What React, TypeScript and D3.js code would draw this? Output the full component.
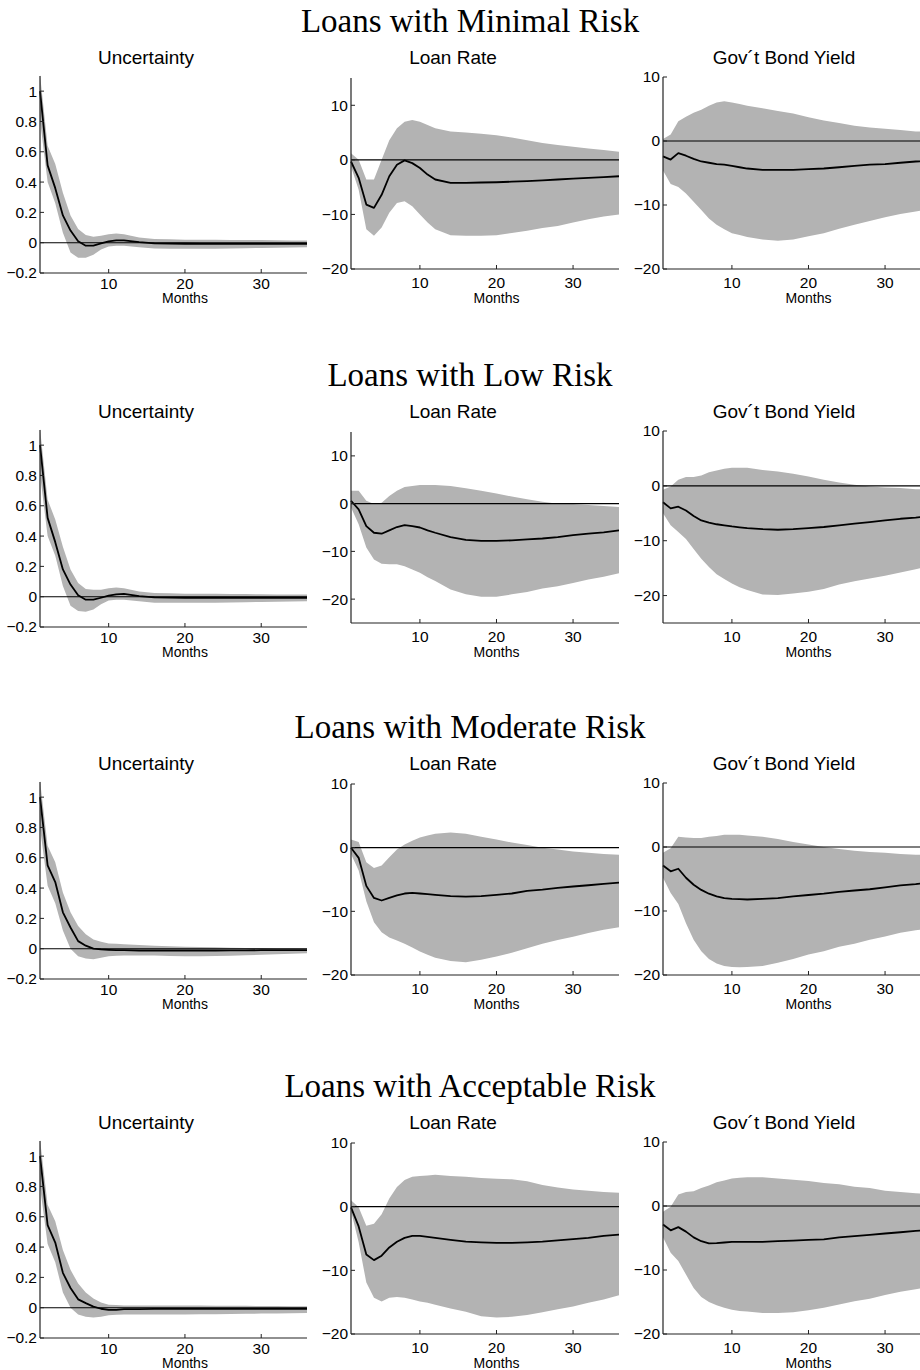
import React, { useEffect, useRef } from 'react';
import * as d3 from 'd3';

const months = [1, 2, 3, 4, 5, 6, 7, 8, 9, 10, 11, 12, 14, 16, 18, 20, 22, 24, 26, 28, 30, 32, 34, 36];

const rowTitles = ['Loans with Minimal Risk', 'Loans with Low Risk', 'Loans with Moderate Risk', 'Loans with Acceptable Risk'];
const colTitles = ['Uncertainty', 'Loan Rate', 'Gov\u00B4t Bond Yield'];
const xTicks = [10, 20, 30];
const uncTicks = [-0.2, 0, 0.2, 0.4, 0.6, 0.8, 1];
const rateTicks = [-20, -10, 0, 10];

// --- Minimal risk
const minUncMid = [1.0, 0.51, 0.36, 0.18, 0.08, 0.01, -0.02, -0.02, -0.005, 0.008, 0.015, 0.015, 0.004, -0.004, -0.006, -0.007, -0.008, -0.008, -0.008, -0.008, -0.008, -0.008, -0.008, -0.008];
const minUncHi = [1.11, 0.64, 0.52, 0.33, 0.18, 0.09, 0.05, 0.04, 0.045, 0.055, 0.06, 0.055, 0.035, 0.025, 0.022, 0.02, 0.02, 0.02, 0.018, 0.018, 0.017, 0.016, 0.015, 0.015];
const minUncLo = [0.81, 0.40, 0.26, 0.065, -0.065, -0.1, -0.1, -0.08, -0.045, -0.025, -0.02, -0.02, -0.03, -0.038, -0.04, -0.04, -0.04, -0.04, -0.038, -0.036, -0.035, -0.034, -0.032, -0.03];
const minRateMid = [-0.3, -3.3, -8.2, -8.8, -6.4, -3.0, -0.9, -0.1, -0.6, -1.5, -2.7, -3.6, -4.2, -4.2, -4.15, -4.1, -4.0, -3.9, -3.75, -3.6, -3.45, -3.3, -3.15, -3.0];
const minRateHi = [1.2, 0.0, -3.6, -3.6, 0.0, 3.6, 5.8, 7.0, 7.3, 7.0, 6.4, 5.8, 5.2, 5.0, 4.8, 4.5, 4.1, 3.6, 3.1, 2.7, 2.4, 2.1, 1.8, 1.5];
const minRateLo = [-1.2, -5.5, -12.7, -13.9, -12.4, -9.7, -7.9, -7.6, -8.5, -10.0, -11.5, -12.7, -13.8, -13.9, -13.9, -13.8, -13.4, -13.0, -12.5, -12.1, -11.5, -10.9, -10.4, -10.0];
const minGovMid = [-2.4, -2.9, -1.9, -2.3, -2.8, -3.2, -3.4, -3.6, -3.7, -3.9, -4.1, -4.3, -4.5, -4.5, -4.5, -4.4, -4.3, -4.1, -3.9, -3.7, -3.6, -3.4, -3.2, -3.1];
const minGovHi = [0.3, 1.0, 3.1, 3.8, 4.4, 4.9, 5.5, 6.0, 6.2, 6.0, 5.8, 5.5, 5.1, 4.7, 4.3, 3.7, 3.2, 2.8, 2.4, 2.1, 1.9, 1.7, 1.5, 1.4];
const minGovLo = [-4.6, -6.7, -7.2, -8.2, -9.5, -10.8, -12.1, -13.1, -13.8, -14.4, -14.7, -15.0, -15.4, -15.6, -15.4, -14.9, -14.4, -13.7, -13.1, -12.5, -11.9, -11.4, -11.0, -10.6];

// --- Low risk
const lowUncMid = [1.0, 0.52, 0.36, 0.18, 0.08, 0.01, -0.02, -0.02, -0.007, 0.007, 0.015, 0.018, 0.004, -0.005, -0.006, -0.007, -0.007, -0.007, -0.007, -0.007, -0.007, -0.007, -0.007, -0.007];
const lowUncHi = [1.11, 0.64, 0.51, 0.33, 0.18, 0.09, 0.05, 0.045, 0.045, 0.055, 0.06, 0.055, 0.035, 0.025, 0.022, 0.02, 0.02, 0.019, 0.018, 0.017, 0.016, 0.015, 0.015, 0.015];
const lowUncLo = [0.81, 0.40, 0.27, 0.07, -0.06, -0.095, -0.1, -0.085, -0.05, -0.025, -0.02, -0.02, -0.03, -0.04, -0.04, -0.04, -0.04, -0.04, -0.038, -0.036, -0.035, -0.033, -0.032, -0.03];
const lowRateMid = [0.6, -1.2, -4.7, -6.1, -6.3, -5.6, -4.9, -4.5, -4.7, -5.0, -5.6, -6.1, -7.0, -7.6, -7.8, -7.8, -7.7, -7.5, -7.3, -7.0, -6.6, -6.3, -6.0, -5.6];
const lowRateHi = [2.7, 2.7, 0.6, -0.1, 0.2, 1.6, 2.7, 3.5, 3.7, 3.9, 3.9, 3.9, 3.7, 3.2, 2.7, 2.1, 1.5, 0.9, 0.4, 0.0, -0.1, -0.3, -0.5, -0.7];
const lowRateLo = [-0.8, -4.3, -9.2, -11.7, -12.6, -12.7, -12.7, -13.1, -13.8, -14.5, -15.4, -16.2, -18.0, -19.0, -19.5, -19.5, -19.0, -18.5, -17.8, -17.3, -16.6, -15.9, -15.3, -14.6];
const lowGovMid = [-3.0, -4.1, -3.8, -4.5, -5.5, -6.3, -6.7, -7.0, -7.2, -7.4, -7.55, -7.7, -7.9, -8.0, -7.9, -7.7, -7.5, -7.2, -6.9, -6.6, -6.3, -6.0, -5.8, -5.5];
const lowGovHi = [-0.7, -0.1, 1.1, 1.6, 1.6, 1.9, 2.5, 2.8, 3.1, 3.3, 3.3, 3.3, 2.9, 2.6, 2.2, 1.7, 1.1, 0.6, 0.2, -0.1, -0.3, -0.4, -0.6, -0.7];
const lowGovLo = [-5.0, -7.2, -8.4, -9.7, -11.5, -13.3, -14.8, -16.1, -17.0, -17.8, -18.5, -19.0, -19.8, -19.9, -19.6, -19.3, -18.8, -18.0, -17.4, -16.9, -16.4, -15.8, -15.2, -14.5];

// --- Moderate risk
const modUncMid = [1.0, 0.55, 0.44, 0.24, 0.14, 0.05, 0.02, 0.0, -0.005, -0.008, -0.01, -0.01, -0.012, -0.012, -0.012, -0.012, -0.012, -0.012, -0.011, -0.011, -0.01, -0.01, -0.01, -0.01];
const modUncHi = [1.11, 0.68, 0.57, 0.37, 0.24, 0.15, 0.095, 0.06, 0.045, 0.035, 0.032, 0.03, 0.025, 0.02, 0.016, 0.013, 0.011, 0.009, 0.007, 0.005, 0.004, 0.002, 0.001, 0.0];
const modUncLo = [0.8, 0.415, 0.3, 0.12, 0.0, -0.05, -0.065, -0.07, -0.06, -0.05, -0.047, -0.045, -0.045, -0.045, -0.048, -0.05, -0.05, -0.048, -0.046, -0.043, -0.04, -0.037, -0.034, -0.03];
const modRateMid = [0.0, -1.6, -6.0, -7.9, -8.3, -7.9, -7.5, -7.2, -7.1, -7.2, -7.3, -7.4, -7.6, -7.7, -7.6, -7.4, -7.2, -6.8, -6.6, -6.3, -6.1, -5.9, -5.7, -5.5];
const modRateHi = [1.3, 0.9, -2.3, -3.2, -2.8, -1.5, -0.3, 0.5, 1.1, 1.6, 1.9, 2.2, 2.4, 2.2, 1.7, 1.3, 0.8, 0.4, 0.0, -0.3, -0.6, -0.8, -1.0, -1.1];
const modRateLo = [-1.0, -3.6, -8.4, -11.7, -13.3, -14.1, -14.6, -15.1, -15.7, -16.3, -16.8, -17.3, -17.8, -18.0, -17.6, -17.1, -16.5, -15.8, -15.1, -14.5, -14.0, -13.4, -12.9, -12.5];
const modGovMid = [-2.9, -3.8, -3.4, -4.8, -5.9, -6.7, -7.3, -7.7, -8.0, -8.1, -8.15, -8.2, -8.1, -8.0, -7.7, -7.5, -7.3, -7.0, -6.8, -6.6, -6.3, -6.0, -5.8, -5.5];
const modGovHi = [-0.9, -0.2, 1.6, 1.5, 1.4, 1.4, 1.6, 1.7, 1.9, 1.9, 1.9, 1.8, 1.6, 1.25, 0.8, 0.4, 0.0, -0.3, -0.6, -0.8, -0.9, -1.1, -1.2, -1.25];
const modGovLo = [-4.8, -7.2, -8.9, -11.9, -14.5, -16.3, -17.5, -18.2, -18.6, -18.75, -18.8, -18.75, -18.6, -18.1, -17.5, -16.8, -16.3, -15.6, -15.1, -14.5, -14.0, -13.4, -13.0, -12.7];

// --- Acceptable risk
const accUncMid = [1.0, 0.545, 0.43, 0.23, 0.13, 0.055, 0.03, 0.007, -0.007, -0.015, -0.015, -0.01, -0.009, -0.008, -0.008, -0.008, -0.008, -0.008, -0.008, -0.008, -0.008, -0.008, -0.008, -0.008];
const accUncHi = [1.11, 0.68, 0.57, 0.38, 0.25, 0.16, 0.1, 0.06, 0.035, 0.02, 0.017, 0.015, 0.015, 0.015, 0.015, 0.015, 0.014, 0.013, 0.012, 0.012, 0.011, 0.011, 0.01, 0.01];
const accUncLo = [0.8, 0.42, 0.3, 0.1, 0.0, -0.045, -0.06, -0.065, -0.06, -0.05, -0.047, -0.045, -0.045, -0.045, -0.045, -0.045, -0.044, -0.043, -0.042, -0.04, -0.039, -0.038, -0.036, -0.035];
const accRateMid = [-0.1, -3.1, -7.5, -8.4, -7.7, -6.4, -5.5, -4.9, -4.6, -4.6, -4.75, -4.9, -5.2, -5.5, -5.6, -5.7, -5.7, -5.6, -5.5, -5.3, -5.1, -4.9, -4.6, -4.4];
const accRateHi = [1.0, -0.1, -3.0, -2.7, -1.2, 1.3, 3.1, 4.2, 4.7, 4.8, 4.9, 5.0, 4.8, 4.7, 4.5, 4.4, 4.3, 4.0, 3.4, 3.0, 2.7, 2.5, 2.3, 2.2];
const accRateLo = [-0.7, -5.6, -11.9, -14.3, -14.9, -14.3, -14.2, -14.3, -14.6, -14.9, -15.1, -15.4, -16.0, -16.5, -17.2, -17.4, -17.3, -17.0, -16.6, -16.1, -15.7, -15.1, -14.6, -13.9];
const accGovMid = [-2.9, -3.8, -3.3, -4.0, -4.9, -5.5, -5.85, -5.8, -5.7, -5.6, -5.6, -5.6, -5.6, -5.5, -5.4, -5.3, -5.2, -4.9, -4.7, -4.5, -4.3, -4.1, -3.9, -3.7];
const accGovHi = [-0.9, -0.1, 1.8, 2.2, 2.3, 2.8, 3.2, 3.7, 4.0, 4.3, 4.4, 4.5, 4.5, 4.3, 4.1, 3.9, 3.6, 3.4, 3.0, 2.8, 2.4, 2.2, 2.0, 1.9];
const accGovLo = [-4.9, -7.3, -8.6, -10.7, -12.8, -14.2, -15.0, -15.5, -15.9, -16.2, -16.4, -16.5, -16.7, -16.7, -16.6, -16.3, -15.9, -15.4, -14.9, -14.5, -13.9, -13.4, -13.0, -12.6];

// y ranges per panel [row][col]
const yDomains = [
  [[-0.2, 1.1], [-20, 15], [-20, 10]],
  [[-0.2, 1.1], [-25, 15], [-25, 10]],
  [[-0.2, 1.1], [-20, 10], [-20, 10]],
  [[-0.2, 1.1], [-20, 10], [-20, 10]],
];

const series = [
  [[minUncMid, minUncHi, minUncLo], [minRateMid, minRateHi, minRateLo], [minGovMid, minGovHi, minGovLo]],
  [[lowUncMid, lowUncHi, lowUncLo], [lowRateMid, lowRateHi, lowRateLo], [lowGovMid, lowGovHi, lowGovLo]],
  [[modUncMid, modUncHi, modUncLo], [modRateMid, modRateHi, modRateLo], [modGovMid, modGovHi, modGovLo]],
  [[accUncMid, accUncHi, accUncLo], [accRateMid, accRateHi, accRateLo], [accGovMid, accGovHi, accGovLo]],
];

// layout
const rowOffsets = [0, 354, 706, 1065];
const cols = [
  { x0: 40, x1: 307, bottom: 273, top: 76, titleX: 146, tickDy: 16, monthsDy: 30 },
  { x0: 351, x1: 619, bottom: 269, top: 78, titleX: 453, tickDy: 19, monthsDy: 34 },
  { x0: 663, x1: 931, bottom: 269, top: 77, titleX: 784, tickDy: 19, monthsDy: 34 },
];

const sans = '"Liberation Sans", Arial, Helvetica, sans-serif';
const serif = '"Liberation Serif", "Times New Roman", serif';

const fmt = (d: number) => (d < 0 ? '\u2212' : '') + String(Math.abs(d));

const App = () => {
  const ref = useRef<SVGSVGElement>(null);

  useEffect(() => {
    const svg = d3.select(ref.current);
    svg.selectAll('*').remove();

    rowTitles.forEach((title, r) => {
      const off = rowOffsets[r];
      svg.append('text')
        .attr('x', 470)
        .attr('y', 32 + off)
        .attr('text-anchor', 'middle')
        .attr('font-family', serif)
        .attr('font-size', 33)
        .text(title);

      cols.forEach((c, ci) => {
        const g = svg.append('g').attr('transform', `translate(0, ${off})`);
        const xScale = d3.scaleLinear().domain([1, 36]).range([c.x0, c.x1]);
        const yScale = d3.scaleLinear().domain(yDomains[r][ci]).range([c.bottom, c.top]);
        const [mid, hi, lo] = series[r][ci];
        const pts = months.map((m, i) => ({ m, mid: mid[i], hi: hi[i], lo: lo[i] }));

        const area = d3.area<any>()
          .x(d => xScale(d.m))
          .y0(d => yScale(d.lo))
          .y1(d => yScale(d.hi));
        g.append('path').datum(pts).attr('d', area).attr('fill', '#b3b3b3');

        // zero line
        g.append('line')
          .attr('x1', xScale(1)).attr('x2', xScale(36))
          .attr('y1', yScale(0)).attr('y2', yScale(0))
          .attr('stroke', '#000').attr('stroke-width', 1.1);

        const line = d3.line<any>().x(d => xScale(d.m)).y(d => yScale(d.mid));
        g.append('path').datum(pts).attr('d', line)
          .attr('fill', 'none').attr('stroke', '#000').attr('stroke-width', 1.8)
          .attr('stroke-linejoin', 'round');

        // axes (left + bottom, ticks pointing inward)
        g.append('line')
          .attr('x1', c.x0).attr('x2', c.x0).attr('y1', c.top).attr('y2', c.bottom)
          .attr('stroke', '#222').attr('stroke-width', 1.2);
        g.append('line')
          .attr('x1', c.x0).attr('x2', c.x1).attr('y1', c.bottom).attr('y2', c.bottom)
          .attr('stroke', '#222').attr('stroke-width', 1.2);

        const yTicks = ci === 0 ? uncTicks : rateTicks;
        yTicks.forEach(t => {
          const y = yScale(t);
          g.append('line').attr('x1', c.x0).attr('x2', c.x0 + 4).attr('y1', y).attr('y2', y)
            .attr('stroke', '#222').attr('stroke-width', 1);
          g.append('text')
            .attr('x', c.x0 - 3).attr('y', y).attr('dy', '0.35em')
            .attr('text-anchor', 'end')
            .attr('font-family', sans).attr('font-size', 15.5)
            .text(fmt(t));
        });
        xTicks.forEach(t => {
          const x = xScale(t);
          g.append('line').attr('x1', x).attr('x2', x).attr('y1', c.bottom).attr('y2', c.bottom - 4)
            .attr('stroke', '#222').attr('stroke-width', 1);
          g.append('text')
            .attr('x', x).attr('y', c.bottom + c.tickDy)
            .attr('text-anchor', 'middle')
            .attr('font-family', sans).attr('font-size', 15.5)
            .text(fmt(t));
        });

        g.append('text')
          .attr('x', (xScale(10) + xScale(30)) / 2).attr('y', c.bottom + c.monthsDy)
          .attr('text-anchor', 'middle')
          .attr('font-family', sans).attr('font-size', 14)
          .text('Months');

        g.append('text')
          .attr('x', c.titleX).attr('y', 64)
          .attr('text-anchor', 'middle')
          .attr('font-family', sans).attr('font-size', 19)
          .text(colTitles[ci]);
      });
    });
  }, []);

  return (
    <svg ref={ref} width={920} height={1370}
      style={{ position: 'absolute', left: 0, top: 0, background: '#fff' }} />
  );
};

export default App;
